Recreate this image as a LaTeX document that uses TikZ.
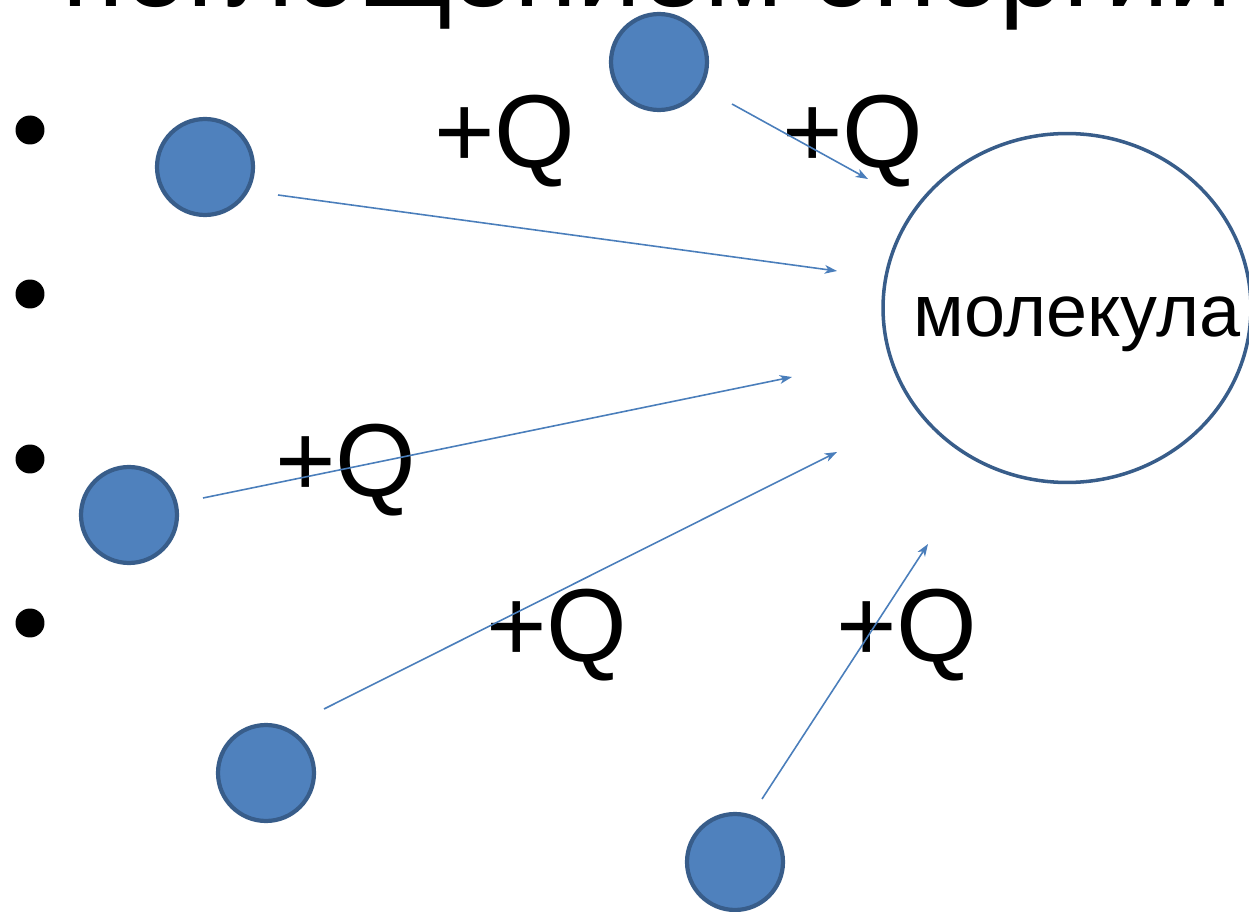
\documentclass[tikz,border=0pt]{standalone}
\usepackage{fontspec}
\setmainfont{Liberation Sans}
\usetikzlibrary{shapes.geometric,arrows.meta}
\definecolor{partfill}{HTML}{4F81BD}
\definecolor{partline}{HTML}{385D8A}
\definecolor{arrowblue}{HTML}{4A7EBB}

\begin{document}
\begin{tikzpicture}[x=0.02cm, y=-0.02cm,
    particle/.style={draw=partline, fill=partfill, circle, line width=2.4pt, minimum size=1.92cm, inner sep=0pt},
    bulletdot/.style={fill=black, circle, minimum size=0.58cm, inner sep=0pt},
    heat/.style={anchor=base west, inner sep=0pt, font=\fontsize{59}{64}\selectfont},
    hit/.style={draw=arrowblue, line width=0.9pt, -{Stealth[length=7pt, width=5pt, inset=2pt]}}]
    \useasboundingbox (0,0) rectangle (1249,912);
    \clip (0,0) rectangle (1249,912);
            \node[anchor=base west, inner sep=0pt, font=\fontsize{65}{70}\selectfont] (title) at (62,7) {поглощением энергии};
            \node[bulletdot] (bullet1) at (30,130){};
            \node[bulletdot] (bullet2) at (30,294){};
            \node[bulletdot] (bullet3) at (30,459){};
            \node[bulletdot] (bullet4) at (30,623){};
            \node[particle] (particle1) at (205,167){};
            \node[particle] (particle2) at (659,62){};
            \node[particle] (particle3) at (129,515){};
            \node[particle] (particle4) at (266,773){};
            \node[particle] (particle5) at (735,862){};
            \node[draw=partline, line width=2pt, ellipse, minimum width=7.36cm, minimum height=6.98cm, inner sep=0pt] (molecule) at (1067,308){};
            \node[anchor=base west, inner sep=0pt, font=\fontsize{42}{46}\selectfont] (molname) at (913,337) {молекула};
            \node[heat] (heat1) at (434,168) {+Q};
            \node[heat] (heat2) at (782,168) {+Q};
            \node[heat] (heat3) at (275,497) {+Q};
            \node[heat] (heat4) at (486,662) {+Q};
            \node[heat] (heat5) at (836,662) {+Q};
            \coordinate (from1) at (278,195);
            \coordinate (to1) at (837,271);
            \coordinate (from2) at (203,498);
            \coordinate (to2) at (792,377);
            \coordinate (from3) at (324,709);
            \coordinate (to3) at (837,452);
            \coordinate (from4) at (762,799);
            \coordinate (to4) at (928,544);
            \coordinate (from5) at (732,104);
            \coordinate (to5) at (868,179);
            \draw[hit] (from1) -- (to1);
            \draw[hit] (from2) -- (to2);
            \draw[hit] (from3) -- (to3);
            \draw[hit] (from4) -- (to4);
            \draw[hit] (from5) -- (to5);
        \end{tikzpicture}
\end{document}
